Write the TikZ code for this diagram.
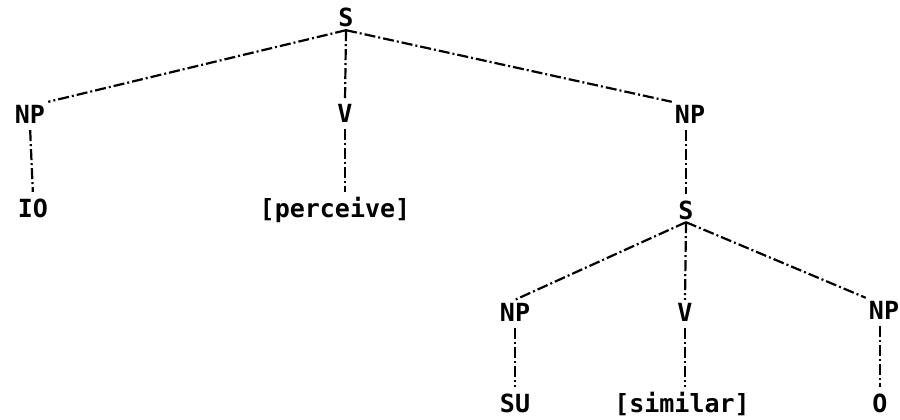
\documentclass[tikz,border=0pt]{standalone}
\usepackage{fontspec}
\setmainfont{DejaVu Sans Mono}
\begin{document}
\begin{tikzpicture}[x=1pt,y=-1pt,
  lab/.style={inner sep=3pt, text height=18pt, text depth=0pt, font=\fontsize{25}{30}\selectfont\bfseries},
  br/.style={draw=black, line width=2.2pt, dash pattern=on 11pt off 3pt on 2pt off 3pt},
  vr/.style={br, shorten <=4pt, shorten >=4pt}]
\useasboundingbox (0,0) rectangle (900,420);
% upper tree
\node[lab] (S1) at (346,18) {S};
\node[lab] (NP1) at (30,114) {NP};
\node[lab] (V1) at (345,113) {V};
\node[lab] (NP2) at (690,114) {NP};
\node[lab] (IO) at (33,208) {IO};
\node[lab] (perc) at (335,208) {[perceive]};
% lower tree
\node[lab] (S2) at (686,210) {S};
\node[lab] (NP3) at (515,312) {NP};
\node[lab] (V2) at (685,312) {V};
\node[lab] (NP4) at (884,310) {NP};
\node[lab] (SU) at (515,403) {SU};
\node[lab] (sim) at (682,403) {[similar]};
\node[lab] (O) at (880,403) {O};
% branches
\draw[br] (S1.south) -- (NP1.north east);
\draw[br] (S1.south) -- (V1.north);
\draw[br] (S1.south) -- (NP2.north west);
\draw[vr] (NP1.south) -- (IO.north);
\draw[vr] (V1.south) -- (V1.south |- perc.north);
\draw[vr] (NP2.south -| S2) -- (S2.north);
\draw[br] (S2.south) -- (NP3.north);
\draw[br] (S2.south) -- (V2.north);
\draw[br] (S2.south) -- (NP4.north west);
\draw[vr] (NP3.south) -- (SU.north);
\draw[vr] (V2.south) -- (V2.south |- sim.north);
\draw[vr] (NP4.south -| O) -- (O.north);
\end{tikzpicture}
\end{document}
